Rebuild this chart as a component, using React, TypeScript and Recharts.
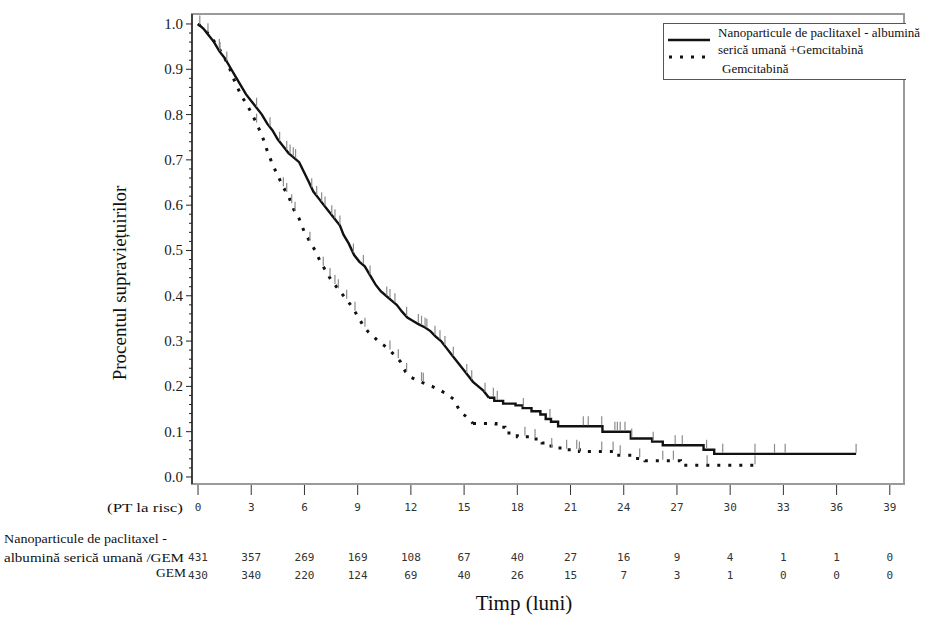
import {
  ComposedChart,
  Line,
  Scatter,
  XAxis,
  YAxis,
  ReferenceArea,
} from 'recharts';

// months shown on the time axis and patients at risk under each tick
const xTicks = [0, 3, 6, 9, 12, 15, 18, 21, 24, 27, 30, 33, 36, 39];
const atRiskNabGem = [431, 357, 269, 169, 108, 67, 40, 27, 16, 9, 4, 1, 1, 0];
const atRiskGem = [430, 340, 220, 124, 69, 40, 26, 15, 7, 3, 1, 0, 0, 0];

const yMajor = [0, 0.1, 0.2, 0.3, 0.4, 0.5, 0.6, 0.7, 0.8, 0.9, 1.0];

// Kaplan-Meier curve, nab-paclitaxel + gemcitabine
const nabGemTime = [
  0, 0.3, 0.6, 0.9, 1.2, 1.5, 1.8, 2.1, 2.4, 2.7, 3.0, 3.3, 3.6, 3.9, 4.2, 4.5,
  4.8, 5.1, 5.4, 5.7, 5.95, 6.2, 6.5, 6.8, 7.1, 7.4, 7.7, 8.0, 8.2, 8.5, 8.8,
  9.1, 9.4, 9.7, 10.0, 10.3, 10.6, 10.9, 11.2, 11.5, 11.8, 12.1, 12.4, 12.8,
  13.1, 13.4, 13.7, 14.0, 14.3, 14.6, 14.9, 15.2, 15.5, 15.8, 16.1, 16.4, 16.7,
  17.2, 17.9, 18.3, 18.8, 19.3, 19.6, 19.9, 20.3, 22.8, 24.4, 25.6, 26.2, 28.5,
  29.1, 37.1,
];
const nabGemSurv = [
  1.0, 0.99, 0.975, 0.96, 0.94, 0.925, 0.905, 0.885, 0.865, 0.845, 0.83, 0.815,
  0.8, 0.78, 0.765, 0.745, 0.73, 0.715, 0.705, 0.695, 0.675, 0.655, 0.63, 0.615,
  0.6, 0.585, 0.57, 0.555, 0.535, 0.515, 0.49, 0.475, 0.465, 0.445, 0.425, 0.41,
  0.4, 0.39, 0.38, 0.365, 0.352, 0.345, 0.338, 0.33, 0.322, 0.31, 0.3, 0.285,
  0.27, 0.255, 0.24, 0.225, 0.21, 0.2, 0.19, 0.175, 0.168, 0.162, 0.158, 0.152,
  0.145, 0.138, 0.128, 0.122, 0.112, 0.1, 0.085, 0.078, 0.07, 0.06, 0.051, 0.051,
];
const nabGemCensor = [
  0.1, 1.24, 1.62, 3.3, 4.06, 4.6, 5.0, 5.19, 5.37, 5.5, 6.41, 6.69, 6.97, 7.16,
  7.54, 7.72, 8.0, 8.76, 9.32, 9.7, 10.64, 10.82, 11.1, 11.76, 12.42, 12.6, 12.8,
  12.9, 13.36, 13.64, 13.92, 14.39, 15.15, 15.43, 16.18, 16.65, 16.87, 18.34,
  19.84, 21.72, 22.0, 22.76, 23.5, 23.64, 23.8, 24.07, 24.45, 25.66, 26.9, 27.3,
  28.67, 29.58, 31.4, 32.5, 33.1, 37.1,
];
// dense early part is drawn as a line, the sparse tail as steps
const nabGemStepFrom = 16.4;

// Kaplan-Meier curve, gemcitabine alone
const gemTime = [
  0, 0.3, 0.6, 0.9, 1.2, 1.5, 1.8, 2.1, 2.4, 2.7, 3.0, 3.3, 3.6, 3.9, 4.2, 4.5,
  4.8, 5.1, 5.4, 5.7, 6.0, 6.3, 6.6, 6.9, 7.2, 7.5, 7.8, 8.1, 8.4, 8.7, 9.0, 9.3,
  9.6, 9.9, 10.2, 10.5, 10.8, 11.1, 11.4, 11.7, 12.0, 12.4, 12.8, 13.2, 13.6,
  14.0, 14.4, 14.7, 14.9, 15.3, 15.5, 16.8, 17.3, 18.0, 18.7, 19.4, 19.9, 20.6,
  21.5, 23.5, 24.5, 25.2, 27.2, 31.4,
];
const gemSurv = [
  1.0, 0.99, 0.978, 0.962, 0.945, 0.925, 0.9, 0.87, 0.845, 0.825, 0.805, 0.78,
  0.755, 0.72, 0.69, 0.665, 0.64, 0.62, 0.59, 0.57, 0.54, 0.52, 0.5, 0.475,
  0.455, 0.435, 0.42, 0.405, 0.39, 0.375, 0.355, 0.335, 0.32, 0.31, 0.298, 0.29,
  0.28, 0.268, 0.255, 0.232, 0.22, 0.213, 0.206, 0.2, 0.192, 0.184, 0.172, 0.15,
  0.14, 0.128, 0.118, 0.11, 0.097, 0.089, 0.084, 0.075, 0.064, 0.06, 0.056,
  0.048, 0.041, 0.036, 0.026, 0.026,
];
const gemCensor = [
  0.56, 1.2, 3.3, 4.81, 5.0, 5.28, 5.47, 6.31, 7.06, 7.44, 7.72, 7.91, 8.38, 8.85,
  9.41, 10.82, 11.29, 11.76, 12.6, 12.7, 18.43, 19.0, 19.94, 20.78, 21.35, 21.5,
  22.76, 23.4, 23.8, 24.9, 26.2, 26.8, 28.7, 31.4,
];
const gemStepFrom = 15.5;

const X_DOMAIN: [number, number] = [-0.34, 39.8];
const Y_DOMAIN: [number, number] = [-0.0155, 1.022];

const SERIF = '"Liberation Serif", "Times New Roman", serif';
const MONO = '"DejaVu Sans Mono", monospace';

const toSeries = (times: number[], surv: number[]) =>
  times.map((t, i) => ({ t, s: surv[i] }));

// height of the drawn curve at time t (interpolated in the line part, level in the step part)
const curveAt = (times: number[], surv: number[], stepFrom: number, t: number) => {
  let i = 0;
  while (i < times.length - 1 && times[i + 1] <= t) i++;
  if (t < stepFrom && i < times.length - 1) {
    const f = (t - times[i]) / (times[i + 1] - times[i]);
    return surv[i] + f * (surv[i + 1] - surv[i]);
  }
  return surv[i];
};

const nabGemAll = toSeries(nabGemTime, nabGemSurv);
const gemAll = toSeries(gemTime, gemSurv);
const nabGemEarly = nabGemAll.filter((d) => d.t <= nabGemStepFrom);
const nabGemTail = nabGemAll.filter((d) => d.t >= nabGemStepFrom);
const gemEarly = gemAll.filter((d) => d.t <= gemStepFrom);
const gemTail = gemAll.filter((d) => d.t >= gemStepFrom);

const nabGemMarks = nabGemCensor.map((t) => ({
  t,
  s: curveAt(nabGemTime, nabGemSurv, nabGemStepFrom, t),
}));
const gemMarks = gemCensor.map((t) => ({ t, s: curveAt(gemTime, gemSurv, gemStepFrom, t) }));

const yTicks: number[] = [];
for (let i = 0; i <= 50; i++) yTicks.push(Math.round(i * 2) / 100);

const YTick = (props: any) => {
  const { x, y, payload } = props;
  const v = payload.value as number;
  const major = yMajor.some((m) => Math.abs(m - v) < 1e-6);
  return (
    <g>
      <line x1={x - (major ? 6 : 3)} x2={x} y1={y} y2={y} stroke="#222" strokeWidth={1} />
      {major && (
        <text x={x - 9} y={y + 5} textAnchor="end" fontFamily={SERIF} fontSize={15} fill="#1a1a1a">
          {v.toFixed(1)}
        </text>
      )}
    </g>
  );
};

const XTick = (props: any) => {
  const { x, y, payload, index } = props;
  return (
    <g fontFamily={MONO} fontSize={11} fill="#333" textAnchor="middle">
      <line x1={x} x2={x} y1={y + 1} y2={y + 11} stroke="#333" strokeWidth={1} />
      <text x={x} y={y + 27}>{payload.value}</text>
      <text x={x} y={y + 77}>{atRiskNabGem[index]}</text>
      <text x={x} y={y + 95}>{atRiskGem[index]}</text>
    </g>
  );
};

const CensorMark = (props: any) => {
  const { cx, cy } = props;
  if (cx == null || cy == null) return <g />;
  return <line x1={cx} x2={cx} y1={cy - 1} y2={cy - 10} stroke="#8c8c8c" strokeWidth={1.2} />;
};

const solidStyle = { stroke: '#111', strokeWidth: 2.4 };
const dottedStyle = { stroke: '#111', strokeWidth: 3, strokeDasharray: '3 8' };

export default function App() {
  return (
    <div style={{ position: 'absolute', left: 0, top: 0, width: 945, height: 620, background: '#fff' }}>
      <ComposedChart
        width={945}
        height={620}
        margin={{ top: 14, right: 41, bottom: 106, left: 132 }}
      >
        <XAxis
          dataKey="t"
          type="number"
          domain={X_DOMAIN}
          allowDataOverflow
          ticks={xTicks}
          interval={0}
          tick={<XTick />}
          tickLine={false}
          tickSize={0}
          tickMargin={0}
          axisLine={false}
          height={30}
        />
        <YAxis
          type="number"
          domain={Y_DOMAIN}
          allowDataOverflow
          ticks={yTicks}
          interval={0}
          tick={<YTick />}
          tickLine={false}
          tickSize={0}
          tickMargin={0}
          axisLine={{ stroke: '#222', strokeWidth: 1.5 }}
          width={60}
        />
        <ReferenceArea
          x1={X_DOMAIN[0]}
          x2={X_DOMAIN[1]}
          y1={Y_DOMAIN[0]}
          y2={Y_DOMAIN[1]}
          fill="none"
          stroke="#9a9a9a"
          strokeWidth={2}
          ifOverflow="visible"
        />
        <Scatter data={nabGemMarks} dataKey="s" shape={<CensorMark />} isAnimationActive={false} />
        <Scatter data={gemMarks} dataKey="s" shape={<CensorMark />} isAnimationActive={false} />
        <Line data={gemEarly} dataKey="s" type="linear" {...dottedStyle} dot={false} isAnimationActive={false} />
        <Line data={gemTail} dataKey="s" type="stepAfter" {...dottedStyle} dot={false} isAnimationActive={false} />
        <Line data={nabGemEarly} dataKey="s" type="linear" {...solidStyle} dot={false} isAnimationActive={false} />
        <Line data={nabGemTail} dataKey="s" type="stepAfter" {...solidStyle} dot={false} isAnimationActive={false} />
      </ComposedChart>

      <svg
        width={945}
        height={620}
        style={{ position: 'absolute', left: 0, top: 0, pointerEvents: 'none' }}
        fontFamily={SERIF}
      >
        <text
          x={126}
          y={283}
          transform="rotate(-90 126 283)"
          textAnchor="middle"
          fontSize={19}
          fill="#111"
        >
          Procentul supraviețuirilor
        </text>

        <text x={107} y={512} fontSize={13.5} fill="#111" textLength={76} lengthAdjust="spacingAndGlyphs">
          (PT la risc)
        </text>
        <text x={4} y={543} fontSize={13.5} fill="#111" textLength={163} lengthAdjust="spacingAndGlyphs">
          Nanoparticule de paclitaxel -
        </text>
        <text x={4} y={562} fontSize={13.5} fill="#111" textLength={180} lengthAdjust="spacingAndGlyphs">
          albumină serică umană /GEM
        </text>
        <text x={186} y={577} textAnchor="end" fontSize={13.5} fill="#111">GEM</text>

        <text x={524} y={610} textAnchor="middle" fontSize={21} fill="#111">Timp (luni)</text>

        <g>
          <rect x={663} y={23} width={245} height={57} fill="#fff" />
          <line x1={663} x2={906} y1={23.5} y2={23.5} stroke="#555" />
          <line x1={663} x2={906} y1={79.5} y2={79.5} stroke="#555" />
          <line x1={663.5} x2={663.5} y1={23} y2={80} stroke="#555" />
          <line x1={668} x2={710} y1={40} y2={40} stroke="#111" strokeWidth={2.4} />
          <line x1={669} x2={710} y1={57} y2={57} stroke="#111" strokeWidth={3} strokeDasharray="3 8" />
          <text x={718} y={37} fontSize={13} fill="#111">Nanoparticule de paclitaxel - albumină</text>
          <text x={718} y={54} fontSize={13} fill="#111">serică umană +Gemcitabină</text>
          <text x={722} y={73} fontSize={13} fill="#111">Gemcitabină</text>
        </g>
      </svg>
    </div>
  );
}
